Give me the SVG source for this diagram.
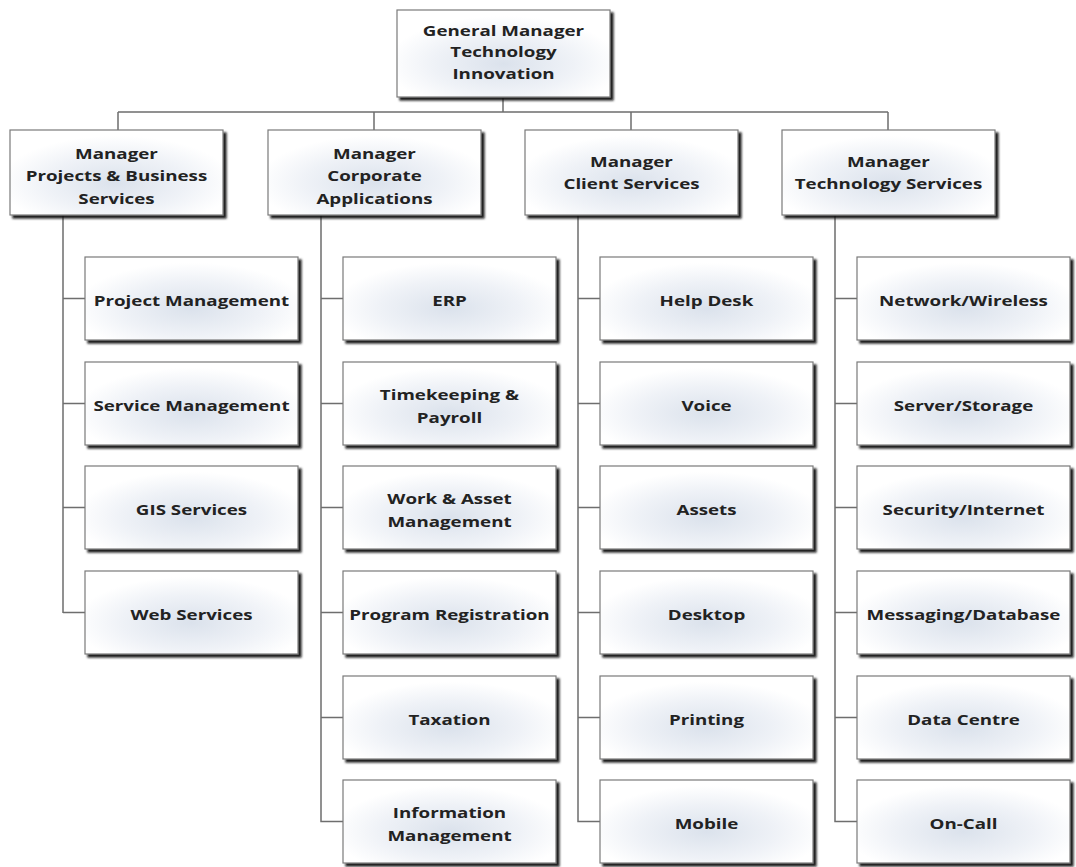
<svg xmlns="http://www.w3.org/2000/svg" width="1076" height="867" viewBox="0 0 1076 867">
  <defs>
    <radialGradient id="boxFill" cx="50%" cy="62%" r="55%">
      <stop offset="0" stop-color="#dbe2ec"/>
      <stop offset="0.6" stop-color="#eff2f7"/>
      <stop offset="1" stop-color="#ffffff"/>
    </radialGradient>
    <filter id="shadow" x="-5%" y="-5%" width="115%" height="120%">
      <feDropShadow dx="3" dy="3" stdDeviation="1" flood-color="#111111" flood-opacity="0.95"/>
    </filter>
    <style>
      .box { fill: url(#boxFill); stroke: #7a7a7a; stroke-width: 1.2; filter: url(#shadow); }
      .lbl { font-family: "Open Sans", "Liberation Sans", sans-serif; font-weight: bold; font-size: 15px; fill: #222222; text-anchor: middle;
             transform-box: fill-box; transform-origin: center; transform: scaleX(1.25); }
      .wire { fill: none; stroke: #6e6e6e; stroke-width: 1.5; }
    </style>
  </defs>
  <rect width="1076" height="867" fill="#ffffff"/>

  <!-- connectors -->
  <g id="connectors" class="wire">
    <path d="M503 98 V112 M118 112 H888 M118 112 V130 M374 112 V130 M631 112 V130 M888 112 V130"/>
    <!-- column 1 -->
    <path d="M63 215 V613 M63 298.5 H85 M63 403.5 H85 M63 507.5 H85 M63 612.5 H85"/>
    <!-- column 2 -->
    <path d="M321 215 V821.5 H343 M321 298.5 H343 M321 403.5 H343 M321 507.5 H343 M321 612.5 H343 M321 717.5 H343"/>
    <!-- column 3 -->
    <path d="M578 215 V821.5 H600 M578 298.5 H600 M578 403.5 H600 M578 507.5 H600 M578 612.5 H600 M578 717.5 H600"/>
    <!-- column 4 -->
    <path d="M835 215 V821.5 H857 M835 298.5 H857 M835 403.5 H857 M835 507.5 H857 M835 612.5 H857 M835 717.5 H857"/>
  </g>

  <!-- head -->
  <g id="gm">
    <rect class="box" x="397" y="10" width="213" height="87"/>
    <text class="lbl" x="503.5" y="36">General Manager</text>
    <text class="lbl" x="503.5" y="57.5">Technology</text>
    <text class="lbl" x="503.5" y="79">Innovation</text>
  </g>

  <!-- managers -->
  <g id="mgr-projects">
    <rect class="box" x="10" y="130" width="213" height="85"/>
    <text class="lbl" x="116.5" y="159">Manager</text>
    <text class="lbl" x="116.5" y="181.5">Projects &amp; Business</text>
    <text class="lbl" x="116.5" y="204">Services</text>
  </g>
  <g id="mgr-corporate">
    <rect class="box" x="268" y="130" width="213" height="85"/>
    <text class="lbl" x="374.5" y="159">Manager</text>
    <text class="lbl" x="374.5" y="181.5">Corporate</text>
    <text class="lbl" x="374.5" y="204">Applications</text>
  </g>
  <g id="mgr-client">
    <rect class="box" x="525" y="130" width="213" height="85"/>
    <text class="lbl" x="631.5" y="167.5">Manager</text>
    <text class="lbl" x="631.5" y="189.5">Client Services</text>
  </g>
  <g id="mgr-technology">
    <rect class="box" x="782" y="130" width="213" height="85"/>
    <text class="lbl" x="888.5" y="167.5">Manager</text>
    <text class="lbl" x="888.5" y="189.5">Technology Services</text>
  </g>

  <!-- column 1 -->
  <g id="project-management"><rect class="box" x="85" y="257" width="213" height="83"/><text class="lbl" x="191.5" y="306">Project Management</text></g>
  <g id="service-management"><rect class="box" x="85" y="362" width="213" height="83"/><text class="lbl" x="191.5" y="411">Service Management</text></g>
  <g id="gis-services"><rect class="box" x="85" y="466" width="213" height="83"/><text class="lbl" x="191.5" y="515">GIS Services</text></g>
  <g id="web-services"><rect class="box" x="85" y="571" width="213" height="83"/><text class="lbl" x="191.5" y="620">Web Services</text></g>

  <!-- column 2 -->
  <g id="erp"><rect class="box" x="343" y="257" width="213" height="83"/><text class="lbl" x="449.5" y="306">ERP</text></g>
  <g id="timekeeping"><rect class="box" x="343" y="362" width="213" height="83"/><text class="lbl" x="449.5" y="400.5">Timekeeping &amp;</text><text class="lbl" x="449.5" y="423">Payroll</text></g>
  <g id="work-asset"><rect class="box" x="343" y="466" width="213" height="83"/><text class="lbl" x="449.5" y="504.5">Work &amp; Asset</text><text class="lbl" x="449.5" y="527">Management</text></g>
  <g id="program-registration"><rect class="box" x="343" y="571" width="213" height="83"/><text class="lbl" x="449.5" y="620">Program Registration</text></g>
  <g id="taxation"><rect class="box" x="343" y="676" width="213" height="83"/><text class="lbl" x="449.5" y="725">Taxation</text></g>
  <g id="information-management"><rect class="box" x="343" y="780" width="213" height="83"/><text class="lbl" x="449.5" y="818.5">Information</text><text class="lbl" x="449.5" y="841">Management</text></g>

  <!-- column 3 -->
  <g id="help-desk"><rect class="box" x="600" y="257" width="213" height="83"/><text class="lbl" x="706.5" y="306">Help Desk</text></g>
  <g id="voice"><rect class="box" x="600" y="362" width="213" height="83"/><text class="lbl" x="706.5" y="411">Voice</text></g>
  <g id="assets"><rect class="box" x="600" y="466" width="213" height="83"/><text class="lbl" x="706.5" y="515">Assets</text></g>
  <g id="desktop"><rect class="box" x="600" y="571" width="213" height="83"/><text class="lbl" x="706.5" y="620">Desktop</text></g>
  <g id="printing"><rect class="box" x="600" y="676" width="213" height="83"/><text class="lbl" x="706.5" y="725">Printing</text></g>
  <g id="mobile"><rect class="box" x="600" y="780" width="213" height="83"/><text class="lbl" x="706.5" y="829">Mobile</text></g>

  <!-- column 4 -->
  <g id="network-wireless"><rect class="box" x="857" y="257" width="213" height="83"/><text class="lbl" x="963.5" y="306">Network/Wireless</text></g>
  <g id="server-storage"><rect class="box" x="857" y="362" width="213" height="83"/><text class="lbl" x="963.5" y="411">Server/Storage</text></g>
  <g id="security-internet"><rect class="box" x="857" y="466" width="213" height="83"/><text class="lbl" x="963.5" y="515">Security/Internet</text></g>
  <g id="messaging-database"><rect class="box" x="857" y="571" width="213" height="83"/><text class="lbl" x="963.5" y="620">Messaging/Database</text></g>
  <g id="data-centre"><rect class="box" x="857" y="676" width="213" height="83"/><text class="lbl" x="963.5" y="725">Data Centre</text></g>
  <g id="on-call"><rect class="box" x="857" y="780" width="213" height="83"/><text class="lbl" x="963.5" y="829">On-Call</text></g>
</svg>
